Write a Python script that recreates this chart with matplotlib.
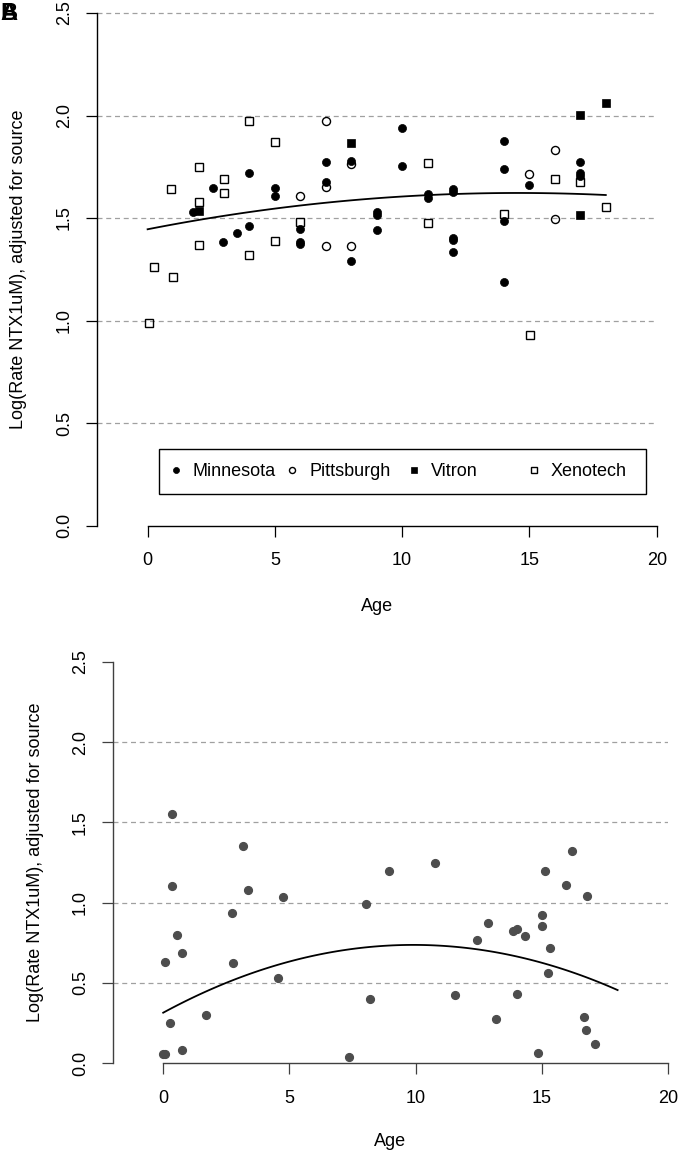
import numpy as np
import matplotlib
matplotlib.use('Agg')
import matplotlib.pyplot as plt
from matplotlib.patches import Rectangle
from matplotlib.legend import Legend

plt.rcParams['font.family'] = ['Liberation Sans', 'DejaVu Sans']

# ---- panel A: rate by age, per source ----
minn_age = [1.78, 2.58, 2.98, 3.5, 3.98, 3.98, 5.0, 5.0, 6.0, 6.0, 6.0, 6.99, 6.99,
            8.0, 8.0, 9.0, 9.0, 9.0, 10.0, 10.0, 11.0, 11.0, 12.0, 12.0, 12.0, 12.0,
            12.0, 14.0, 14.0, 14.0, 14.0, 15.0, 17.0, 17.0, 17.0]
minn_val = [1.53, 1.648, 1.384, 1.428, 1.721, 1.461, 1.645, 1.609, 1.448, 1.385, 1.375,
            1.772, 1.674, 1.778, 1.29, 1.529, 1.515, 1.441, 1.937, 1.755, 1.616, 1.597,
            1.64, 1.629, 1.401, 1.395, 1.336, 1.874, 1.741, 1.485, 1.19, 1.661, 1.772,
            1.718, 1.707]
pitt_age = [6.0, 6.99, 6.99, 6.99, 8.0, 8.0, 15.0, 16.0, 16.0]
pitt_val = [1.607, 1.973, 1.653, 1.363, 1.762, 1.365, 1.716, 1.83, 1.494]
vitr_age = [2.0, 8.0, 17.0, 17.0, 18.0]
vitr_val = [1.536, 1.864, 2.002, 1.515, 2.063]
xeno_age = [0.07, 0.24, 0.91, 0.99, 2.0, 2.0, 2.0, 3.01, 3.01, 3.98, 3.98, 5.0, 5.0,
            6.0, 11.0, 11.0, 14.0, 15.02, 16.0, 17.0, 18.0]
xeno_val = [0.986, 1.262, 1.64, 1.21, 1.75, 1.577, 1.368, 1.689, 1.624, 1.973, 1.32,
            1.872, 1.386, 1.482, 1.77, 1.474, 1.52, 0.929, 1.689, 1.677, 1.555]
fit_a = [1.445, 0.02435, -0.000837]   # quadratic fit, constant first

# ---- panel B ----
b_age = [0.0, 0.07, 0.09, 0.26, 0.34, 0.36, 0.54, 0.74, 0.74, 1.70, 2.74, 2.77, 3.17,
         3.34, 4.56, 4.75, 7.35, 8.02, 8.18, 8.93, 10.78, 11.55, 12.43, 12.87, 13.18,
         13.87, 14.01, 14.01, 14.32, 14.85, 15.02, 15.02, 15.13, 15.24, 15.34, 15.96,
         16.21, 16.66, 16.74, 16.78, 17.11]
b_val = [0.055, 0.055, 0.631, 0.249, 1.552, 1.104, 0.799, 0.685, 0.083, 0.301, 0.936,
         0.623, 1.353, 1.079, 0.533, 1.034, 0.039, 0.994, 0.40, 1.199, 1.249, 0.425,
         0.768, 0.872, 0.274, 0.826, 0.834, 0.433, 0.793, 0.066, 0.925, 0.855, 1.199,
         0.564, 0.716, 1.112, 1.322, 0.288, 0.205, 1.042, 0.12]
fit_b = [0.315, 0.08517, -0.004297]

xticks = [0, 5, 10, 15, 20]
yticks = [0.0, 0.5, 1.0, 1.5, 2.0, 2.5]
ylab = 'Log(Rate NTX1uM), adjusted for source'
FS = 13


def style_axes(ax, axcol, ylab_x, xlab_y):
    ax.set_xlim(-2, 20)
    ax.set_ylim(0, 2.5)
    for s in ['top', 'right']:
        ax.spines[s].set_visible(False)
    ax.spines['bottom'].set_bounds(0, 20)
    for s in ['left', 'bottom']:
        ax.spines[s].set_color(axcol)
        ax.spines[s].set_linewidth(1.0)
    ax.set_xticks(xticks)
    ax.set_yticks(yticks)
    ax.set_yticklabels(['%.1f' % v for v in yticks])
    ax.tick_params(direction='out', length=8, width=0.9, color=axcol, labelsize=FS)
    ax.tick_params(axis='x', pad=11)
    ax.tick_params(axis='y', pad=9)
    for lbl in ax.get_yticklabels():
        lbl.set_rotation(90)
        lbl.set_rotation_mode('default')
        lbl.set_horizontalalignment('right')
        lbl.set_verticalalignment('center')
    ax.set_xlabel('Age', fontsize=FS)
    ax.xaxis.set_label_coords(0.5, xlab_y)
    ax.xaxis.label.set_va('center')
    ax.set_ylabel(ylab, fontsize=FS)
    ax.yaxis.set_label_coords(ylab_x, 0.5)
    ax.yaxis.label.set_va('center')


fig = plt.figure(figsize=(6.89, 11.52), dpi=100)

# top panel
ax1 = fig.add_axes([96.7 / 689, 1 - 525.5 / 1152, 560 / 689, 512.5 / 1152])
for g in [0.5, 1.0, 1.5, 2.0, 2.5]:
    ax1.axhline(g, color='#a0a0a0', lw=0.9, ls=(0, (4, 3)), clip_on=False, zorder=1)

ms = 5.8
h_xeno, = ax1.plot(xeno_age, xeno_val, ls='none', marker='s', ms=ms - 0.6,
                   mfc='none', mec='black', mew=1.0, zorder=3)
h_pitt, = ax1.plot(pitt_age, pitt_val, ls='none', marker='o', ms=ms,
                   mfc='none', mec='black', mew=1.0, zorder=3)
h_minn, = ax1.plot(minn_age, minn_val, ls='none', marker='o', ms=ms,
                   mfc='black', mec='black', mew=0.5, zorder=4)
h_vitr, = ax1.plot(vitr_age, vitr_val, ls='none', marker='s', ms=ms - 0.6,
                   mfc='black', mec='black', mew=0.5, zorder=4)

ages = np.linspace(0, 18, 100)
ax1.plot(ages, np.polyval(fit_a[::-1], ages), color='black', lw=1.3, zorder=5)

style_axes(ax1, 'black', -0.1405, -0.1584)

# legend box, entries spaced like the original
ax1.add_patch(Rectangle((0.1113, 0.0615), 0.8696, 0.0878, transform=ax1.transAxes,
                        fill=False, ec='black', lw=1.0, zorder=6))
entries = [(h_minn, 'Minnesota', 0.1255), (h_pitt, 'Pittsburgh', 0.3327),
           (h_vitr, 'Vitron', 0.5505), (h_xeno, 'Xenotech', 0.7648)]
for h, name, xpos in entries:
    leg = Legend(ax1, [h], [name], loc='center left', bbox_to_anchor=(xpos, 0.1044),
                 frameon=False, fontsize=FS, borderpad=0, borderaxespad=0,
                 handlelength=1.0, handletextpad=0.44, markerscale=0.75,
                 numpoints=1)
    ax1.add_artist(leg)

# bottom panel
ax2 = fig.add_axes([112.7 / 689, 1 - 1063.3 / 1152, 555.4 / 689, 401.6 / 1152])
for g in [0.5, 1.0, 1.5, 2.0]:
    ax2.axhline(g, color='#a0a0a0', lw=0.9, ls=(0, (4, 3)), zorder=1)
ax2.plot(b_age, b_val, ls='none', marker='o', ms=5.6, mfc='#4d4d4d', mec='#4d4d4d',
         zorder=3, clip_on=False)
ax2.plot(ages, np.polyval(fit_b[::-1], ages), color='black', lw=1.3, zorder=4)
style_axes(ax2, '#404040', -0.1386, -0.1952)

for t in ['A', 'B']:
    fig.text(0.001, 1 - 14 / 1152, t, fontsize=17, fontweight='bold',
             ha='left', va='center')

fig.savefig('out.png', dpi=100)
